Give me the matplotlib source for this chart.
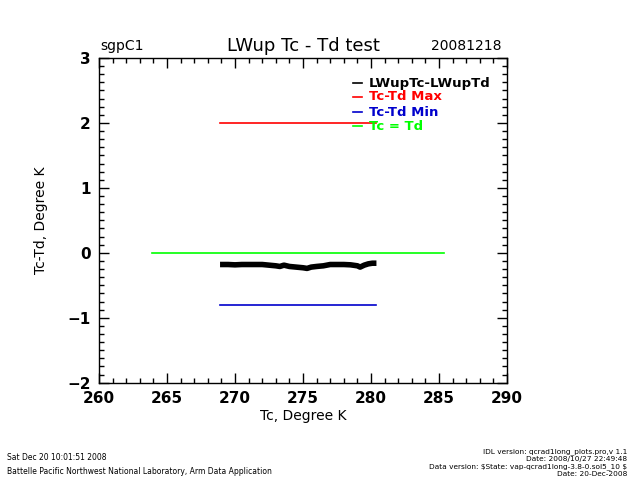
import matplotlib
matplotlib.use('Agg')
import matplotlib.pyplot as plt
from matplotlib.ticker import MultipleLocator

# 數據
tc_vals = [268.9, 269.5, 270.0, 270.5, 271.0, 271.5, 272.0, 272.5, 273.0, 273.3,
           273.6, 274.0, 274.5, 275.0, 275.3, 275.6, 276.0, 276.5, 277.0, 277.5,
           278.0, 278.5, 279.0, 279.2, 279.5, 279.8, 280.1, 280.4]
diff_vals = [-0.18, -0.18, -0.185, -0.18, -0.18, -0.18, -0.18, -0.19, -0.20, -0.21,
             -0.19, -0.21, -0.22, -0.23, -0.24, -0.22, -0.21, -0.20, -0.18, -0.18,
             -0.18, -0.185, -0.20, -0.22, -0.19, -0.17, -0.16, -0.16]
max_x = [268.9, 280.4]
max_y = [2.0, 2.0]
min_x = [268.9, 280.4]
min_y = [-0.8, -0.8]
eq_x = [263.9, 285.4]
eq_y = [0.0, 0.0]

legend_labels = ['LWupTc-LWupTd', 'Tc-Td Max', 'Tc-Td Min', 'Tc = Td']
legend_colors = ['black', 'red', '#0000cc', '#00ff00']

W, H = 640, 480

def fx(px):
    return px / W

def fy(py):
    return 1 - py / H

fig = plt.figure(figsize=(6.4, 4.8), dpi=100)
ax = fig.add_axes([fx(99), fy(382.7), (507 - 99) / W, (382.7 - 58) / H])

ax.plot(eq_x, eq_y, color='#00ff00', lw=1.2)
ax.plot(max_x, max_y, color='red', lw=1.2)
ax.plot(min_x, min_y, color='#0000cc', lw=1.2)
ax.plot(tc_vals, diff_vals, color='black', lw=4, solid_capstyle='butt')

ax.set_xlim(260, 290)
ax.set_ylim(-2, 3)
ax.xaxis.set_major_locator(MultipleLocator(5))
ax.xaxis.set_minor_locator(MultipleLocator(1))
ax.yaxis.set_major_locator(MultipleLocator(1))
ax.yaxis.set_minor_locator(MultipleLocator(0.125))
ax.tick_params(which='both', direction='in', top=True, right=True, width=1)
ax.tick_params(which='major', length=7, labelsize=11, pad=6)
ax.tick_params(which='minor', length=3.5)
for lab in ax.get_xticklabels() + ax.get_yticklabels():
    lab.set_fontweight('semibold')
for sp in ax.spines.values():
    sp.set_linewidth(1)

ax.set_xlabel('Tc, Degree K', fontsize=10, labelpad=2)
ax.set_ylabel('Tc-Td, Degree K', fontsize=10, labelpad=14)

# 標題
fig.text(fx(100), fy(46), 'sgpC1', fontsize=10, va='center', ha='left')
fig.text(fx(303), fy(46), 'LWup Tc - Td test', fontsize=13, va='center', ha='center')
fig.text(fx(502), fy(46), '20081218', fontsize=10, va='center', ha='right')

# 圖例
for i, (lab, col) in enumerate(zip(legend_labels, legend_colors)):
    y = [83, 97, 112, 126][i]
    ax.plot([fx(353), fx(362)], [fy(y), fy(y)], color=col, lw=1.2,
            transform=fig.transFigure, clip_on=False)
    fig.text(fx(369), fy(y), lab, color=col, fontsize=9.5, fontweight='bold',
             va='center', ha='left')

# 頁尾
fig.text(fx(7), fy(458), 'Sat Dec 20 10:01:51 2008', fontsize=5.5, va='center', ha='left')
fig.text(fx(7), fy(472), 'Battelle Pacific Northwest National Laboratory, Arm Data Application',
         fontsize=5.5, va='center', ha='left')
right_lines = ['IDL version: qcrad1long_plots.pro,v 1.1',
               'Date: 2008/10/27 22:49:48',
               r'Data version: \$State: vap-qcrad1long-3.8-0.sol5_10 \$',
               'Date: 20-Dec-2008']
for i, txt in enumerate(right_lines):
    fig.text(fx(627), fy(452 + i * 7.4), txt, fontsize=5.3, va='center', ha='right')

plt.savefig('out.png', dpi=100)
plt.close()
